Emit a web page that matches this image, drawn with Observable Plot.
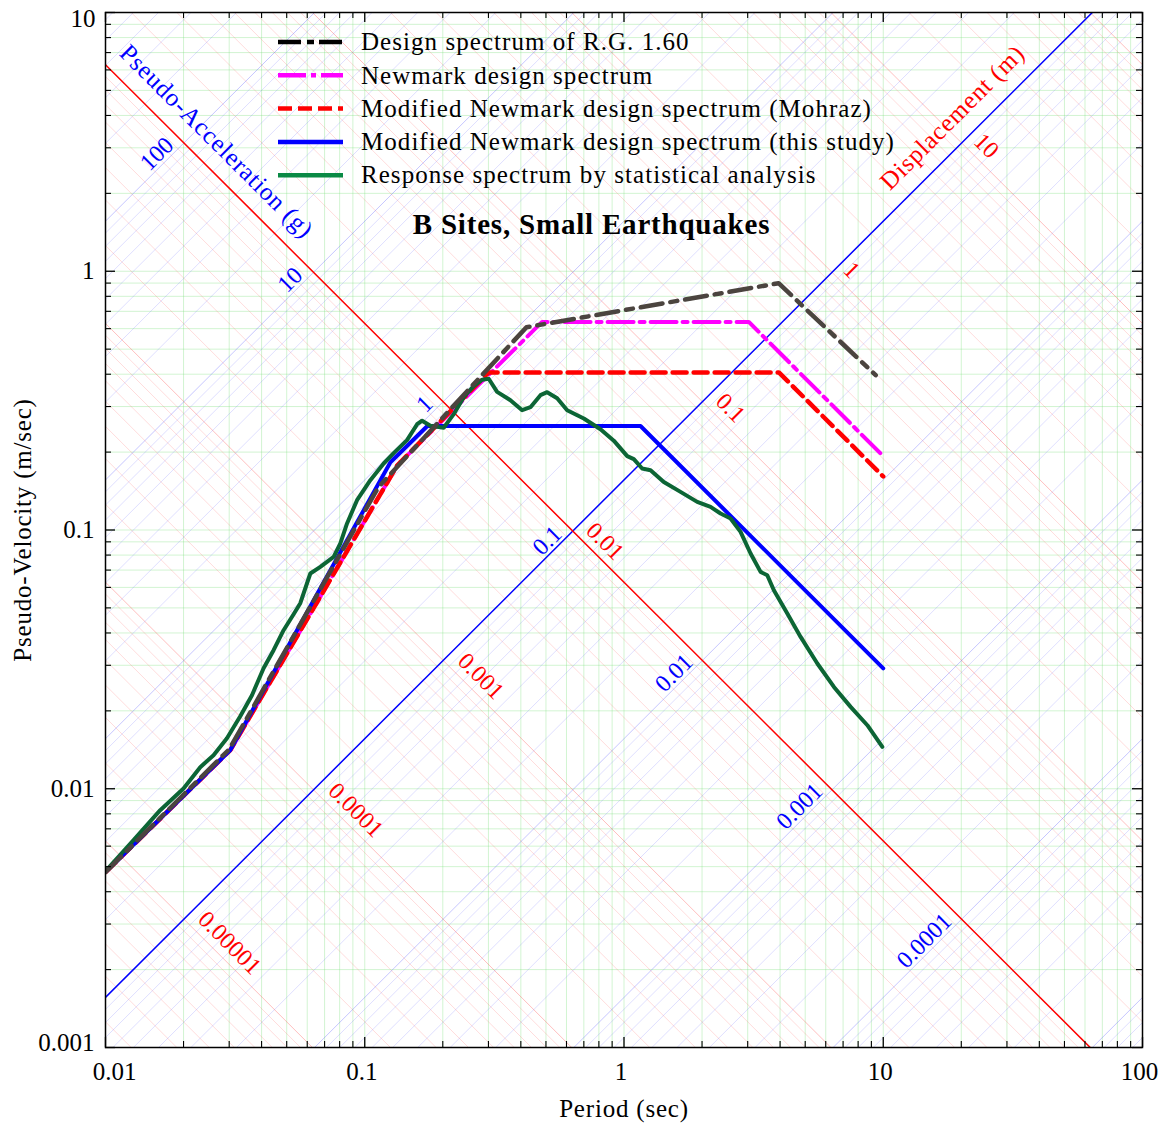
<!DOCTYPE html>
<html><head><meta charset="utf-8">
<script src="https://cdn.jsdelivr.net/npm/d3@7"></script>
<script src="https://cdn.jsdelivr.net/npm/@observablehq/plot@0.6"></script>
<style>
html,body{margin:0;padding:0;background:#fff;}
#chart{position:relative;width:1168px;height:1126px;}
</style></head><body><div id="chart"></div>
<script>
const G = 9.81;
// Spectrum vertices: period (sec), pseudo-velocity (m/sec)
const rgPeriod = [0.01, 0.03, 0.1128, 0.4204, 3.947, 9.35];
const rgVelocity = [0.00476, 0.0142, 0.1463, 0.6078, 0.899, 0.3965];
const newmarkPeriod = [0.01, 0.0303, 0.1336, 0.483, 3.03, 10];
const newmarkVelocity = [0.00476, 0.0141, 0.178, 0.637, 0.637, 0.193];
const mohrazPeriod = [0.01, 0.0303, 0.1336, 0.3006, 3.956, 10];
const mohrazVelocity = [0.00476, 0.0141, 0.178, 0.4066, 0.4066, 0.161];
const studyPeriod = [0.01, 0.0303, 0.1256, 0.1744, 1.158, 10];
const studyVelocity = [0.00476, 0.0141, 0.1828, 0.2523, 0.2523, 0.0292];
const statPeriod = [0.01, 0.01283, 0.01626, 0.0200, 0.0232, 0.02611, 0.02941, 0.0331, 0.03673, 0.04072,
  0.0445, 0.04864, 0.05316, 0.05642, 0.06167, 0.0674, 0.07586, 0.08051, 0.08545, 0.09338,
  0.1051, 0.1183, 0.1293, 0.1456, 0.1592, 0.1664, 0.1791, 0.2016, 0.2204, 0.2408,
  0.2632, 0.2836, 0.3007, 0.324, 0.3647, 0.4047, 0.4357, 0.4761, 0.5053, 0.5523,
  0.6036, 0.6997, 0.8116, 0.9133, 1.029, 1.091, 1.175, 1.266, 1.424, 1.652,
  1.916, 2.157, 2.358, 2.577, 2.816, 3.078, 3.364, 3.570, 3.785, 4.265,
  4.800, 5.568, 6.453, 7.485, 8.682, 9.92];
const statVelocity = [0.0048, 0.006327, 0.008263, 0.01002, 0.01212, 0.01348, 0.01568, 0.01907, 0.02299, 0.02923,
  0.03431, 0.0410, 0.04727, 0.05213, 0.0679, 0.07201, 0.07871, 0.08869, 0.1060, 0.1304,
  0.1558, 0.1807, 0.1981, 0.2224, 0.2564, 0.2645, 0.2530, 0.2485, 0.2803, 0.3260,
  0.3596, 0.3809, 0.3843, 0.3418, 0.3174, 0.2904, 0.2983, 0.3319, 0.3409, 0.3231,
  0.2904, 0.2697, 0.2452, 0.2214, 0.1929, 0.1878, 0.1729, 0.1703, 0.1534, 0.1404,
  0.1284, 0.1228, 0.1158, 0.1108, 0.09832, 0.08112, 0.06887, 0.06688, 0.05852, 0.04756,
  0.03862, 0.03049, 0.02475, 0.02072, 0.01760, 0.01451];

const periodTicks = [0.01, 0.1, 1, 10, 100];
const velocityTicks = [0.001, 0.01, 0.1, 1, 10];
const accelLabels = [100, 10, 1, 0.1, 0.01, 0.001, 0.0001];
const dispLabels = [10, 1, 0.1, 0.01, 0.001, 0.0001, 0.00001];
const accelHighlight = 0.1;
const dispHighlight = 0.01;
const legendLabels = [
  "Design spectrum of R.G. 1.60",
  "Newmark design spectrum",
  "Modified Newmark design spectrum (Mohraz)",
  "Modified Newmark design spectrum (this study)",
  "Response spectrum by statistical analysis"
];
const titleText = "B Sites, Small Earthquakes";

// ---------- layout ----------
const W = 1168, H = 1126;
const mL = 105, mR = 26, mT = 12, mB = 79;
const innerW = W - mL - mR, innerH = H - mT - mB;
const FONT = "'Liberation Serif', 'Times New Roman', serif";

const vFromA = (A, T) => A * G * T / (2 * Math.PI);
const vFromD = (D, T) => 2 * Math.PI * D / T;
const rows = (Ts, Vs) => Ts.map((t, i) => ({T: t, V: Vs[i]}));

const gridVals = d3.range(-7, 4).flatMap(n => d3.range(1, 10).map(k => ({v: k * 10 ** n, major: k === 1})));
const accelGrid = gridVals.map(g => ({...g, x1: 1e-3, y1: vFromA(g.v, 1e-3), x2: 1e3, y2: vFromA(g.v, 1e3)}));
const dispGrid = gridVals.map(g => ({...g, x1: 1e-3, y1: vFromD(g.v, 1e-3), x2: 1e3, y2: vFromD(g.v, 1e3)}));
const tGrid = d3.range(-2, 2).flatMap(n => d3.range(1, 10).map(k => k * 10 ** n)).concat([100]);
const vGrid = d3.range(-3, 1).flatMap(n => d3.range(1, 10).map(k => k * 10 ** n)).concat([10]);
const tMinor = d3.range(-2, 2).flatMap(n => d3.range(2, 10).map(k => k * 10 ** n));
const vMinor = d3.range(-3, 1).flatMap(n => d3.range(2, 10).map(k => k * 10 ** n));

// label placement along the diagonals (pixel diagonal offsets)
const accelShift = new Map([[2, 3], [1, 10], [0, 20], [-1, 6], [-2, 0], [-3, -8], [-4, -18]]);
const accelLabelRows = accelLabels.map(A => {
  const d = accelShift.get(Math.round(Math.log10(A)));
  const D = 0.01 * 10 ** ((d - 41) / 259);
  const T = 2 * Math.PI * Math.sqrt(D / (A * G));
  return {T, V: vFromA(A, T), text: String(A)};
});
const dispShift = new Map([[1, 1130], [0, 1120], [-1, 1137], [-2, 1145], [-3, 1156], [-4, 1165], [-5, 1172]]);
const dispLabelRows = dispLabels.map(D => {
  const s = dispShift.get(Math.round(Math.log10(D)));
  const A = 0.1 * 10 ** (-(s - 1102.5) / 259);
  const T = 2 * Math.PI * Math.sqrt(D / (A * G));
  return {T, V: vFromD(D, T), text: String(D)};
});

const lineOpts = {x: "T", y: "V", strokeLinejoin: "round", clip: true};

const chart = Plot.plot({
  width: W, height: H,
  marginLeft: mL, marginRight: mR, marginTop: mT, marginBottom: mB,
  x: {type: "log", domain: [0.01, 100], axis: null},
  y: {type: "log", domain: [0.001, 10], axis: null},
  style: {fontFamily: FONT, background: "white", overflow: "visible"},
  marks: [
    // rectangular grid
    Plot.ruleX(tGrid, {x: d => d, stroke: "#7fe07f", strokeOpacity: 0.35, strokeWidth: 1}),
    Plot.ruleY(vGrid, {y: d => d, stroke: "#7fe07f", strokeOpacity: 0.35, strokeWidth: 1}),
    // displacement grid (red) and acceleration grid (blue)
    Plot.link(dispGrid, {x1: "x1", y1: "y1", x2: "x2", y2: "y2", stroke: "#ff6060",
      strokeOpacity: d => d.major ? 0.5 : 0.28, strokeWidth: 0.8, clip: true}),
    Plot.link(accelGrid, {x1: "x1", y1: "y1", x2: "x2", y2: "y2", stroke: "#6060ff",
      strokeOpacity: d => d.major ? 0.45 : 0.26, strokeWidth: 0.8, clip: true}),
    // highlighted diagonals
    Plot.link([accelHighlight], {x1: () => 1e-3, y1: A => vFromA(A, 1e-3), x2: () => 1e3, y2: A => vFromA(A, 1e3),
      stroke: "#0000ff", strokeWidth: 1.5, clip: true}),
    Plot.link([dispHighlight], {x1: () => 1e-3, y1: D => vFromD(D, 1e-3), x2: () => 1e3, y2: D => vFromD(D, 1e3),
      stroke: "#ff0000", strokeWidth: 1.5, clip: true}),
    // spectra
    Plot.line(rows(newmarkPeriod, newmarkVelocity), {...lineOpts, stroke: "#ff00ff", strokeWidth: 4, strokeDasharray: "26,6,5,6"}),
    Plot.line(rows(mohrazPeriod, mohrazVelocity), {...lineOpts, stroke: "#ff0000", strokeWidth: 4.5, strokeDasharray: "14,7"}),
    Plot.line(rows(studyPeriod, studyVelocity), {...lineOpts, stroke: "#0000ff", strokeWidth: 4}),
    Plot.line(rows(statPeriod, statVelocity), {...lineOpts, stroke: "#0c6535", strokeWidth: 4}),
    Plot.line(rows(rgPeriod, rgVelocity), {...lineOpts, stroke: "#4b443f", strokeWidth: 4.5, strokeDasharray: "22,8,7,8"}),
    // diagonal scale labels
    Plot.text(accelLabelRows, {x: "T", y: "V", text: "text", rotate: -45, dx: -8, dy: -8,
      fill: "#0000ff", fontSize: 24, textAnchor: "middle", lineAnchor: "middle"}),
    Plot.text(dispLabelRows, {x: "T", y: "V", text: "text", rotate: 45, dx: 11, dy: -11,
      fill: "#ff0000", fontSize: 24, textAnchor: "middle", lineAnchor: "middle"}),
    Plot.text(["Pseudo-Acceleration (g)"], {frameAnchor: "top-left", dx: 111, dy: 129, rotate: 45,
      fill: "#0000ff", fontSize: 25, textAnchor: "middle", lineAnchor: "middle"}),
    Plot.text(["Displacement (m)"], {frameAnchor: "top-left", dx: 847, dy: 105, rotate: -45,
      fill: "#ff0000", fontSize: 25, textAnchor: "middle", lineAnchor: "middle"}),
    Plot.text([titleText], {frameAnchor: "top-left", dx: 486, dy: 212, fontSize: 29, fontWeight: "bold",
      fill: "#000", textAnchor: "middle", lineAnchor: "middle"}),
    // inward ticks
    Plot.ruleX(periodTicks, {x: d => d, insetTop: innerH - 10, stroke: "#000", strokeWidth: 1.3}),
    Plot.ruleX(periodTicks, {x: d => d, insetBottom: innerH - 10, stroke: "#000", strokeWidth: 1.3}),
    Plot.ruleX(tMinor, {x: d => d, insetTop: innerH - 6, stroke: "#000", strokeWidth: 1.1}),
    Plot.ruleX(tMinor, {x: d => d, insetBottom: innerH - 6, stroke: "#000", strokeWidth: 1.1}),
    Plot.ruleY(velocityTicks, {y: d => d, insetRight: innerW - 10, stroke: "#000", strokeWidth: 1.3}),
    Plot.ruleY(velocityTicks, {y: d => d, insetLeft: innerW - 10, stroke: "#000", strokeWidth: 1.3}),
    Plot.ruleY(vMinor, {y: d => d, insetRight: innerW - 6, stroke: "#000", strokeWidth: 1.1}),
    Plot.ruleY(vMinor, {y: d => d, insetLeft: innerW - 6, stroke: "#000", strokeWidth: 1.1}),
    Plot.frame({stroke: "#000", strokeWidth: 1.5}),
    // tick labels
    Plot.text(periodTicks.slice(0, 1), {x: d => d, text: d => String(d), frameAnchor: "bottom", dx: 9, dy: 24,
      fontSize: 25, fill: "#000", textAnchor: "middle", lineAnchor: "middle"}),
    Plot.text(periodTicks.slice(1), {x: d => d, text: d => String(d), frameAnchor: "bottom", dx: -3, dy: 24,
      fontSize: 25, fill: "#000", textAnchor: "middle", lineAnchor: "middle"}),
    Plot.text(velocityTicks.slice(1, 4), {y: d => d, text: d => String(d), frameAnchor: "left", dx: -11,
      fontSize: 25, fill: "#000", textAnchor: "end", lineAnchor: "middle"}),
    Plot.text(velocityTicks.slice(4), {y: d => d, text: d => String(d), frameAnchor: "left", dx: -10, dy: 6,
      fontSize: 25, fill: "#000", textAnchor: "end", lineAnchor: "middle"}),
    Plot.text(velocityTicks.slice(0, 1), {y: d => d, text: d => String(d), frameAnchor: "left", dx: -11, dy: -5,
      fontSize: 25, fill: "#000", textAnchor: "end", lineAnchor: "middle"}),
    // axis titles
    Plot.text(["Period (sec)"], {frameAnchor: "bottom", dy: 61, fontSize: 25, fill: "#000",
      textAnchor: "middle", lineAnchor: "middle"}),
    Plot.text(["Pseudo-Velocity (m/sec)"], {frameAnchor: "left", dx: -83, rotate: -90, fontSize: 25, fill: "#000",
      textAnchor: "middle", lineAnchor: "middle"})
  ]
});

document.getElementById("chart").appendChild(chart);

// slightly wider letter spacing to mimic the original serif face
const svg = d3.select(chart);
svg.selectAll("text").filter(function() { return /[A-Za-z]/.test(this.textContent); })
  .attr("letter-spacing", "0.8px");

// legend (inside the frame, top)
const legendStroke = ["#000000", "#ff00ff", "#ff0000", "#0000ff", "#0a8a45"];
const legendDash = ["23,6,7,5", "28,5,5,5", "14,6", null, null];
const lg = svg.append("g").attr("font-family", FONT).attr("font-size", 25).attr("fill", "#000")
  .attr("text-anchor", "start").style("text-anchor", "start");
legendLabels.forEach((lab, i) => {
  const y = 42 + i * 33.3;
  lg.append("line").attr("x1", 278).attr("x2", 343).attr("y1", y).attr("y2", y)
    .attr("stroke", legendStroke[i]).attr("stroke-width", 4.5)
    .attr("stroke-dasharray", legendDash[i]);
  lg.append("text").attr("x", 361).attr("y", y).attr("dy", "0.33em")
    .attr("text-anchor", "start").attr("letter-spacing", "1.05px").text(lab);
});
</script></body></html>
